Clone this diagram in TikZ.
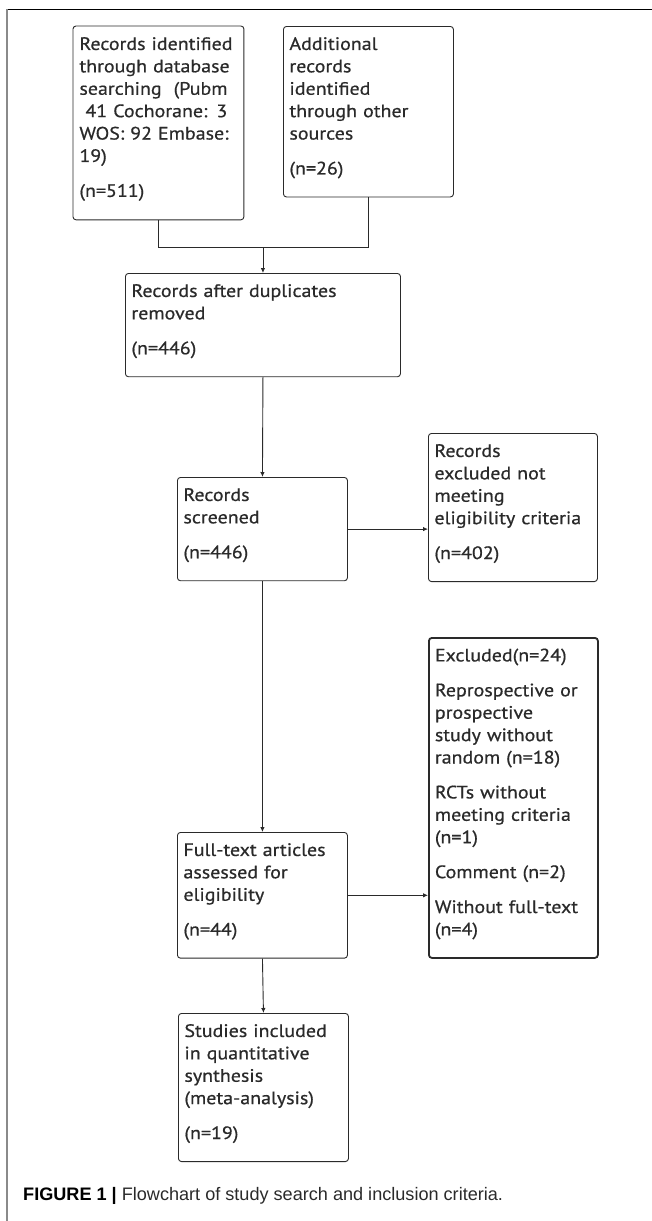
\documentclass[tikz,border=0pt]{standalone}
\usepackage{fontspec}
\setmainfont{PT Sans}[FakeStretch=1.11, FakeBold=0.6]
\newfontfamily\capfont{Liberation Sans}
\usetikzlibrary{arrows.meta, positioning, calc}

\definecolor{inkgray}{HTML}{2A2A2A}
\definecolor{framegray}{HTML}{8A8A8A}
\newcommand{\boxfont}{\fontsize{18}{22.4}\selectfont}
\newcommand{\topgap}{\rule{0pt}{23.5pt}}
\newcommand{\botgap}{\rule[-22.5pt]{0pt}{22.5pt}}

\begin{document}
\begin{tikzpicture}[x=1pt,y=-1pt,
  box/.style={draw=inkgray, line width=0.9pt, rounded corners=3pt, fill=white,
    anchor=north west, align=left, text width=#1, inner xsep=6pt, inner ysep=0pt,
    font=\boxfont, text=inkgray},
  arr/.style={draw=inkgray, line width=0.9pt, -{Latex[length=5pt,width=4.5pt]}},
  link/.style={draw=inkgray, line width=0.9pt}]
\useasboundingbox (0,0) rectangle (652,1221);
% Frame
\draw[black, line width=1pt] (7,9) -- (652,9);
\draw[framegray, line width=1.3pt] (7,9) -- (7,1221);
% Identification
\begin{scope}
\clip (73,20) rectangle (239,230);
\node[box=158pt, draw=none, fill=none] (records) at (73,26)
  {\topgap\mbox{Records identified}\\\mbox{through database}\\\mbox{searching\ \ (Pubm}\\\mbox{\ 41 Cochorane: 3}\\\mbox{WOS: 92 Embase:}\\19)\\[12.5pt](n=511)\botgap};
\end{scope}
\draw[link, rounded corners=3pt] (records.north west) rectangle (records.south east);
\node[box=158pt] (extra) at (283,26)
  {\topgap Additional\\records\\identified\\through other\\sources\\[12.5pt](n=26)\botgap};
% Screening
\node[box=263pt] (dedup) at (125,273)
  {\topgap Records after duplicates\\removed\\[12.5pt](n=446)\botgap};
\node[box=158pt] (screen) at (177,477)
  {\topgap Records\\screened\\[12.5pt](n=446)\botgap};
\node[box=157pt] (excl) at (428,433)
  {\topgap Records\\excluded not\\meeting\\eligibility criteria\\[12.5pt](n=402)\botgap};
% Eligibility
\node[box=158pt] (fulltext) at (177,832)
  {\topgap Full-text articles\\assessed for\\eligibility\\[12.5pt](n=44)\botgap};
\node[box=157pt, line width=1.8pt] (fullexcl) at (428,637)
  {\topgap Excluded(n=24)\\[12.5pt]Reprospective or\\prospective\\study without\\random (n=18)\\[12.5pt]RCTs without\\meeting criteria\\(n=1)\\[12.5pt]Comment (n=2)\\[12.5pt]Without full-text\\(n=4)\botgap};
% Included
\node[box=158pt] (incl) at (178,1013)
  {\topgap Studies included\\in quantitative\\synthesis\\(meta-analysis)\\[12.5pt](n=19)\botgap};
% Connectors
\coordinate (join) at ($(dedup.north)+(0,-26)$);
\draw[link] (records.south) |- (join);
\draw[link] (extra.south) |- (join);
\draw[arr] (join) -- (dedup.north);
\draw[arr] (dedup.south) -- (screen.north);
\draw[arr] (screen.east) -- (screen.east -| excl.west);
\draw[arr] (screen.south) -- (fulltext.north);
\draw[arr] (fulltext.east) -- (fulltext.east -| fullexcl.west);
\draw[arr] (fulltext.south) -- (incl.north);
% Caption
\node[anchor=base west, inner sep=0pt, font=\capfont\fontsize{18.1}{21}\selectfont, text=inkgray] (caption) at (23,1200)
  {\textbf{\color{black}FIGURE 1 |} Flowchart of study search and inclusion criteria.};
\end{tikzpicture}
\end{document}
